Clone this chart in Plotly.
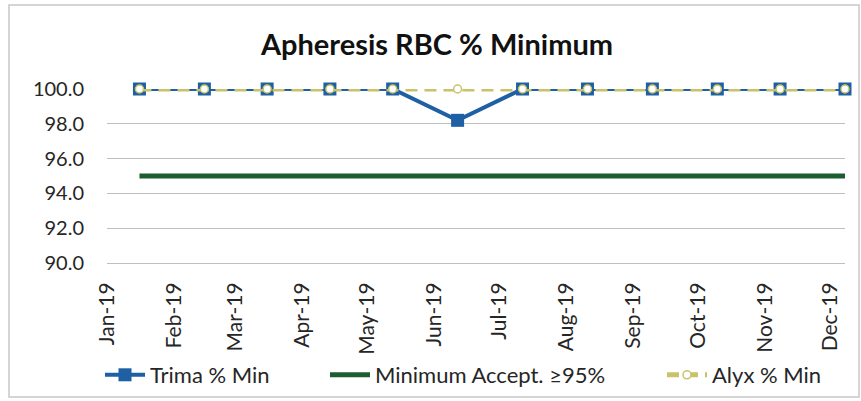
import plotly.graph_objects as go

dates = ["2019-01-16", "2019-02-15", "2019-03-16", "2019-04-14", "2019-05-13", "2019-06-12",
         "2019-07-12", "2019-08-11", "2019-09-10", "2019-10-10", "2019-11-08", "2019-12-08"]
trima = [100.0, 100.0, 100.0, 100.0, 100.0, 98.2, 100.0, 100.0, 100.0, 100.0, 100.0, 100.0]
minimum = [95.0] * 12
alyx = [100.0, 100.0, 100.0, 100.0, 100.0, 100.0, 100.0, 100.0, 100.0, 100.0, 100.0, 100.0]
y_ticks = [90, 92, 94, 96, 98, 100]

BLUE = "#1F5FA3"
GREEN = "#1C5E32"
KHAKI = "#C8C36A"
FONT = "Lato"

fig = go.Figure()
fig.add_trace(go.Scatter(x=dates, y=trima, name="Trima % Min", mode="lines+markers",
                         line=dict(color=BLUE, width=4),
                         marker=dict(symbol="square", size=13, color=BLUE),
                         cliponaxis=False, legend="legend"))
fig.add_trace(go.Scatter(x=dates, y=minimum, name="Minimum Accept. ≥95%", mode="lines",
                         line=dict(color=GREEN, width=5), cliponaxis=False, legend="legend2"))
fig.add_trace(go.Scatter(x=dates, y=alyx, name="Alyx % Min", mode="lines+markers",
                         line=dict(color=KHAKI, width=5, dash="12px,7px"),
                         marker=dict(symbol="circle", size=8, color="white",
                                     line=dict(color=KHAKI, width=1.5)),
                         cliponaxis=False, legend="legend3"))

L, R, T, B = 107, 16, 89, 138
W, H = 861, 401
pw = W - L - R
ph = H - T - B

def px_x(p):
    return (p - L) / pw

def px_y(p):
    return (H - B - p) / ph

def leg(xpx):
    return dict(orientation="h", x=px_x(xpx), xanchor="left",
                y=px_y(375), yanchor="middle",
                font=dict(size=22, color="#262626", family=FONT),
                itemwidth=40, bgcolor="rgba(0,0,0,0)")

fig.update_layout(
    width=W, height=H,
    margin=dict(l=L, r=R, t=T, b=B, autoexpand=False),
    paper_bgcolor="white", plot_bgcolor="white",
    font=dict(family=FONT, color="#262626"),
    title=dict(text="<b>Apheresis RBC % Minimum</b>", x=437 / W, xanchor="center",
               y=1 - 45 / H, yanchor="middle", yref="container",
               font=dict(size=29, color="#111111", family=FONT)),
    xaxis=dict(type="date", range=["2019-01-01", "2019-12-08"],
               tick0="2019-01-01", dtick="M1", tickformat="%b-%y",
               tickangle=-90, tickfont=dict(size=21, color="#262626"),
               showgrid=False, showline=True, linecolor="#BFBFBF", linewidth=1,
               ticks="", ticklabelstandoff=10, zeroline=False, automargin=False),
    yaxis=dict(range=[90, 100], tickvals=y_ticks, tickformat=".1f",
               tickfont=dict(size=20, color="#262626"),
               showgrid=True, gridcolor="#BFBFBF", gridwidth=1,
               showline=False, zeroline=False, ticks="", ticklabelstandoff=22,
               automargin=False),
    legend=leg(100),
    legend2=leg(325),
    legend3=leg(662),
    showlegend=True,
)

fig.add_shape(type="rect", xref="paper", yref="paper",
              x0=px_x(9), x1=px_x(859), y0=px_y(397), y1=px_y(5),
              line=dict(color="#C8C8C8", width=1.5), layer="below")

fig.write_html("out.html", config={"displayModeBar": False},
               post_script="document.body.style.margin='0';document.body.style.overflow='hidden';")
